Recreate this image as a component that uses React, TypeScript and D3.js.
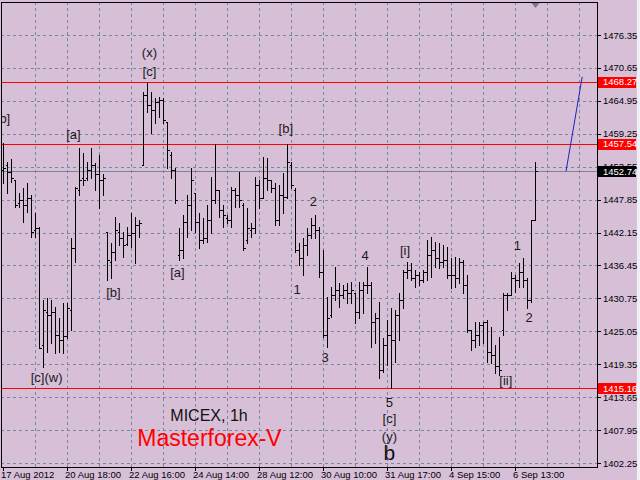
import { useEffect, useRef } from "react";
import { select, scaleLinear, line } from "d3";

// hourly bars, [open, high, low, close]
const bars: [number, number, number, number][] = [
  [1453.0, 1457.7, 1450.8, 1453.4], [1453.9, 1454.4, 1449.0, 1452.7], [1452.7, 1454.8, 1450.9, 1451.6],
  [1451.3, 1451.3, 1446.6, 1447.0], [1447.3, 1449.0, 1446.6, 1447.8], [1447.8, 1449.9, 1444.0, 1447.0],
  [1447.0, 1450.8, 1445.7, 1448.2], [1448.2, 1448.7, 1441.4, 1442.3], [1442.6, 1445.6, 1441.4, 1443.0],
  [1443.0, 1443.1, 1422.2, 1422.2], [1422.7, 1430.5, 1418.9, 1428.8], [1428.4, 1430.8, 1421.5, 1427.9],
  [1427.9, 1430.5, 1423.1, 1428.4], [1428.4, 1429.3, 1421.3, 1424.4], [1424.4, 1427.4, 1421.5, 1423.6],
  [1423.6, 1430.0, 1421.3, 1424.3], [1424.3, 1430.0, 1423.9, 1429.1], [1428.8, 1441.2, 1425.3, 1439.5],
  [1439.5, 1450.1, 1437.1, 1449.9], [1449.6, 1456.8, 1448.7, 1451.3], [1451.6, 1456.0, 1450.4, 1451.3],
  [1451.6, 1454.4, 1451.3, 1453.0], [1453.0, 1456.8, 1451.6, 1453.9], [1453.9, 1454.2, 1449.6, 1452.2],
  [1452.2, 1455.6, 1446.4, 1451.3], [1451.3, 1452.2, 1448.7, 1451.6], [1442.3, 1442.3, 1434.0, 1437.4],
  [1437.1, 1440.4, 1434.3, 1438.8], [1438.8, 1444.9, 1437.4, 1442.6], [1442.3, 1443.8, 1440.0, 1441.2],
  [1441.2, 1442.3, 1437.9, 1440.0], [1440.2, 1443.1, 1440.0, 1441.8], [1441.8, 1445.6, 1439.7, 1442.1],
  [1442.1, 1444.9, 1436.9, 1443.5], [1443.5, 1444.4, 1441.4, 1443.8], [1453.9, 1466.4, 1453.9, 1466.0],
  [1466.0, 1468.1, 1463.1, 1464.3], [1464.3, 1466.4, 1459.4, 1463.4], [1463.4, 1465.5, 1461.2, 1464.8],
  [1464.8, 1465.7, 1462.2, 1465.1], [1465.1, 1465.5, 1461.2, 1461.7], [1461.3, 1461.3, 1453.4, 1456.5],
  [1455.6, 1456.1, 1451.6, 1453.0], [1453.0, 1453.4, 1447.3, 1447.8], [1438.3, 1443.0, 1437.4, 1439.2],
  [1439.2, 1445.2, 1437.8, 1444.0], [1444.0, 1448.7, 1441.4, 1447.0], [1447.0, 1453.4, 1442.6, 1451.3],
  [1449.0, 1449.0, 1442.3, 1444.0], [1444.0, 1445.6, 1439.5, 1440.9], [1440.9, 1444.7, 1440.4, 1441.2],
  [1441.2, 1447.0, 1440.5, 1444.4], [1444.4, 1451.8, 1442.1, 1447.8], [1447.8, 1457.4, 1447.3, 1449.6],
  [1449.6, 1449.6, 1444.9, 1446.1], [1446.1, 1447.0, 1443.1, 1445.2], [1444.7, 1445.2, 1443.8, 1444.4],
  [1444.4, 1450.1, 1443.1, 1449.6], [1449.6, 1449.9, 1446.6, 1448.7], [1448.7, 1452.7, 1446.6, 1447.8],
  [1447.0, 1447.3, 1439.2, 1439.5], [1440.9, 1446.4, 1440.4, 1443.0], [1442.6, 1443.8, 1441.4, 1443.0],
  [1443.0, 1451.8, 1442.1, 1450.4], [1450.4, 1451.3, 1446.4, 1448.2], [1448.2, 1455.3, 1448.2, 1451.6],
  [1451.6, 1455.1, 1449.6, 1451.3], [1451.3, 1451.3, 1449.2, 1449.9], [1449.9, 1450.8, 1443.5, 1444.4],
  [1444.4, 1450.4, 1443.5, 1448.7], [1448.7, 1452.5, 1445.6, 1448.3], [1448.3, 1457.4, 1448.2, 1454.4],
  [1453.9, 1454.4, 1449.9, 1450.4], [1449.6, 1449.9, 1438.8, 1439.2], [1439.2, 1440.4, 1436.6, 1437.8],
  [1437.8, 1441.2, 1434.8, 1440.0], [1440.0, 1443.0, 1438.3, 1441.8], [1441.8, 1444.7, 1441.2, 1443.5],
  [1443.5, 1445.2, 1441.2, 1442.6], [1442.6, 1443.1, 1434.5, 1435.4], [1435.4, 1439.2, 1424.1, 1424.4],
  [1424.4, 1431.0, 1422.4, 1427.4], [1427.9, 1432.8, 1427.6, 1431.4], [1431.4, 1436.2, 1430.5, 1432.2],
  [1432.2, 1433.4, 1429.3, 1431.4], [1431.4, 1433.1, 1430.8, 1432.2], [1432.2, 1433.4, 1430.0, 1431.7],
  [1431.7, 1433.6, 1430.0, 1432.2], [1431.7, 1431.7, 1426.5, 1428.4], [1428.4, 1433.6, 1427.4, 1432.2],
  [1432.2, 1433.6, 1428.2, 1433.1], [1433.1, 1436.2, 1431.7, 1433.1], [1433.1, 1433.6, 1422.4, 1426.7],
  [1426.7, 1428.2, 1423.1, 1427.4], [1427.4, 1430.2, 1417.0, 1418.4], [1418.4, 1423.9, 1418.0, 1422.7],
  [1422.7, 1427.0, 1419.2, 1424.4], [1424.4, 1429.1, 1415.16, 1423.6], [1423.6, 1428.8, 1419.8, 1427.9],
  [1427.9, 1431.7, 1423.6, 1430.5], [1430.5, 1435.7, 1429.1, 1435.4], [1435.4, 1437.1, 1434.3, 1435.7],
  [1435.7, 1436.9, 1434.0, 1434.3], [1434.3, 1435.7, 1432.8, 1434.8], [1434.8, 1435.4, 1433.1, 1434.0],
  [1434.0, 1435.7, 1433.6, 1435.4], [1435.4, 1440.9, 1434.0, 1438.3], [1438.3, 1441.4, 1434.5, 1439.2],
  [1439.2, 1440.5, 1436.2, 1437.8], [1437.8, 1440.4, 1436.0, 1437.1], [1437.1, 1440.0, 1436.2, 1437.4],
  [1437.4, 1439.7, 1434.3, 1434.8], [1434.8, 1437.8, 1432.6, 1434.8], [1434.8, 1437.9, 1432.8, 1434.3],
  [1434.3, 1437.8, 1433.4, 1437.1], [1437.1, 1437.4, 1431.7, 1433.1], [1433.1, 1434.8, 1425.0, 1425.3],
  [1425.3, 1425.3, 1421.8, 1423.6], [1423.6, 1426.7, 1422.4, 1424.4], [1424.4, 1426.7, 1422.7, 1426.2],
  [1426.2, 1426.7, 1423.1, 1426.7], [1426.7, 1427.0, 1419.8, 1421.5], [1421.5, 1425.8, 1419.6, 1421.0],
  [1421.0, 1422.7, 1417.9, 1419.1], [1419.1, 1424.1, 1417.5, 1418.4], [1425.3, 1431.7, 1424.4, 1431.4],
  [1431.4, 1431.7, 1428.8, 1431.4], [1431.4, 1435.4, 1431.4, 1434.3], [1434.3, 1434.8, 1431.9, 1434.0],
  [1434.0, 1436.9, 1432.8, 1435.4], [1435.4, 1437.8, 1432.8, 1434.0], [1434.0, 1434.3, 1429.1, 1430.5],
  [1430.5, 1444.4, 1430.2, 1444.4], [1444.4, 1454.4, 1444.4, 1452.74],
];

const priceTicks = [
  1402.25, 1407.95, 1413.65, 1419.35, 1425.05, 1430.75, 1436.45,
  1442.15, 1447.85, 1453.55, 1459.25, 1464.95, 1470.65, 1476.35,
];

const timeLabels = [
  "17 Aug 2012", "20 Aug 18:00", "22 Aug 16:00", "24 Aug 14:00", "28 Aug 12:00",
  "30 Aug 10:00", "31 Aug 17:00", "4 Sep 15:00", "6 Sep 13:00",
];
const timeLabelBars = [0, 16, 32, 48, 64, 80, 96, 112, 128];

const levels = [1468.27, 1457.54, 1415.16];
const bid = 1452.74;

// projection drawn by hand: [bar, price]
const trend: [number, number][] = [[140.75, 1452.74], [144.8, 1469.1]];

// wave marks: [text, bar, price]
const waves: [string, number, number][] = [
  ["[b]", 0, 1462.0], ["y", -1.2, 1459.4], ["[a]", 17.6, 1459.1], ["[c](w)", 10.9, 1417.1],
  ["[b]", 27.6, 1431.8], ["(x)", 36.6, 1473.3], ["[c]", 36.6, 1470.0], ["[a]", 43.6, 1435.3],
  ["[b]", 70.7, 1460.2], ["1", 73.5, 1432.4], ["2", 77.6, 1447.6], ["3", 80.5, 1420.6],
  ["4", 90.5, 1438.2], ["5", 96.6, 1412.7], ["[c]", 96.6, 1410.0], ["(y)", 96.6, 1406.8],
  ["[i]", 100.5, 1439.0], ["[ii]", 125.7, 1416.6], ["1", 128.6, 1439.9], ["2", 131.5, 1427.5],
];
const bigWave: [string, number, number] = ["b", 96.6, 1404.0];

export default function App() {
  const svgRef = useRef<SVGSVGElement | null>(null);

  useEffect(() => {
    if (!svgRef.current) return;
    const svg = select(svgRef.current);
    svg.selectAll("*").remove();

    const left = 1, top = 2, right = 597, bottom = 467;
    const font = "'Liberation Sans', Arial, sans-serif";

    const x = scaleLinear().domain([0, 148.5]).range([3, 597]);
    const y = scaleLinear().domain([1402.25, 1476.35]).range([463, 35]);
    const px = (v: number) => Math.round(v) + 0.5;

    svg.append("rect").attr("width", W).attr("height", H).attr("fill", "#f0f0f4");
    svg.append("rect").attr("width", 637).attr("height", H).attr("fill", "#D8BFD8");

    svg.append("clipPath").attr("id", "plot")
      .append("rect").attr("x", left).attr("y", top).attr("width", right - left).attr("height", bottom - top);

    const plot = svg.append("g").attr("clip-path", "url(#plot)");

    // grid
    const grid = plot.append("g")
      .attr("stroke", "#778899").attr("stroke-dasharray", "3,3").attr("shape-rendering", "crispEdges");
    grid.selectAll("line.h").data(priceTicks).join("line")
      .attr("x1", left).attr("x2", right)
      .attr("y1", (d) => px(y(d))).attr("y2", (d) => px(y(d)));
    const vBars = Array.from({ length: 19 }, (_, k) => k * 8).filter((b) => b > 0);
    grid.selectAll("line.v").data(vBars).join("line")
      .attr("x1", (d) => px(x(d))).attr("x2", (d) => px(x(d)))
      .attr("y1", top).attr("y2", bottom);

    // bid line and horizontal levels
    plot.append("line")
      .attr("x1", left).attr("x2", right).attr("y1", px(y(bid))).attr("y2", px(y(bid)))
      .attr("stroke", "#778899").attr("shape-rendering", "crispEdges");
    plot.selectAll("line.level").data(levels).join("line")
      .attr("x1", left).attr("x2", right)
      .attr("y1", (d) => px(y(d))).attr("y2", (d) => px(y(d)))
      .attr("stroke", "#ff0000").attr("shape-rendering", "crispEdges");

    // OHLC bars
    plot.append("g").attr("shape-rendering", "crispEdges")
      .selectAll("path").data(bars).join("path")
      .attr("fill", "none").attr("stroke", "#000")
      .attr("d", ([o, h, l, c], i) => {
        const cx = px(x(i));
        return `M${cx},${Math.round(y(h))}V${Math.round(y(l)) + 1}` +
          `M${cx - 2},${px(y(o))}H${cx}M${cx},${px(y(c))}H${cx + 2}`;
      });

    // trend projection
    plot.append("path")
      .attr("d", line<[number, number]>().x((d) => x(d[0])).y((d) => y(d[1]))(trend))
      .attr("fill", "none").attr("stroke", "#2222bb").attr("stroke-width", 1);

    // wave labels
    plot.append("g")
      .attr("font-family", font).attr("font-size", 13).attr("fill", "#1a1a1a").attr("text-anchor", "middle")
      .selectAll("text").data(waves).join("text")
      .attr("x", (d) => x(d[1])).attr("y", (d) => y(d[2])).attr("dy", "0.36em")
      .text((d) => d[0]);
    plot.append("text")
      .attr("x", x(bigWave[1])).attr("y", y(bigWave[2])).attr("dy", "0.36em")
      .attr("text-anchor", "middle").attr("font-family", font).attr("font-size", 21).attr("fill", "#111")
      .text(bigWave[0]);

    plot.append("text")
      .attr("x", 209).attr("y", 421).attr("text-anchor", "middle")
      .attr("font-family", font).attr("font-size", 16).attr("fill", "#111")
      .text("MICEX, 1h");
    plot.append("text")
      .attr("x", 209.5).attr("y", 446).attr("text-anchor", "middle")
      .attr("font-family", font).attr("font-size", 23).attr("fill", "#ff0000")
      .text("Masterforex-V");

    // shift marker
    svg.append("path").attr("d", "M531.5,3H539.5L535.5,8Z").attr("fill", "#7a7a8c");

    // frame
    svg.append("rect")
      .attr("x", left + 0.5).attr("y", top + 0.5)
      .attr("width", right - left).attr("height", bottom - top)
      .attr("fill", "none").attr("stroke", "#000").attr("shape-rendering", "crispEdges");

    // price axis
    const axis = svg.append("g").attr("font-family", font).attr("font-size", 9.5);
    axis.selectAll("line").data(priceTicks).join("line")
      .attr("x1", right + 1).attr("x2", right + 4)
      .attr("y1", (d) => px(y(d))).attr("y2", (d) => px(y(d)))
      .attr("stroke", "#000").attr("shape-rendering", "crispEdges");
    axis.selectAll("text").data(priceTicks).join("text")
      .attr("x", 603).attr("y", (d) => y(d) + 3.5).attr("fill", "#000")
      .text((d) => d.toFixed(2));

    const tags = [
      ...levels.map((v) => ({ v, bg: "#ff0000" })),
      { v: bid, bg: "#000000" },
    ];
    const tag = axis.selectAll("g.tag").data(tags).join("g");
    tag.append("rect")
      .attr("x", right + 1).attr("y", (d) => Math.round(y(d.v)) - 5)
      .attr("width", 38).attr("height", 11).attr("fill", (d) => d.bg);
    tag.append("text")
      .attr("x", 603).attr("y", (d) => y(d.v) + 3.5).attr("fill", "#fff")
      .text((d) => d.v.toFixed(2));

    // time axis
    const tAxis = svg.append("g").attr("font-family", font).attr("font-size", 9.5);
    tAxis.selectAll("line").data(timeLabelBars).join("line")
      .attr("x1", (d) => px(x(d))).attr("x2", (d) => px(x(d)))
      .attr("y1", bottom).attr("y2", bottom + 4)
      .attr("stroke", "#000").attr("shape-rendering", "crispEdges");
    tAxis.selectAll("text").data(timeLabels).join("text")
      .attr("x", (_, k) => x(timeLabelBars[k]) - 2).attr("y", 478).attr("fill", "#000")
      .text((d) => d);
  }, []);

  return (
    <svg ref={svgRef} width={W} height={H} viewBox={`0 0 ${W} ${H}`}
      style={{ position: "absolute", left: 0, top: 0, display: "block" }} />
  );
}

const W = 640;
const H = 480;
